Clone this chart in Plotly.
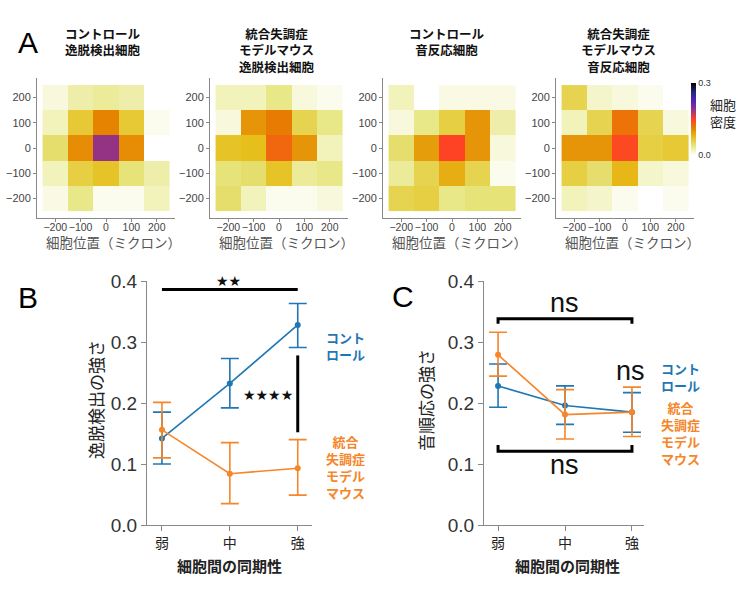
import plotly.graph_objects as go

W, H = 750, 589

# ---------------- data ----------------
pos = [-200, -100, 0, 100, 200]
rows = [200, 100, 0, -100, -200]

ctrl_escape = [
    [0.010, 0.025, 0.030, 0.025, 0.000],
    [0.020, 0.065, 0.110, 0.065, 0.005],
    [0.045, 0.105, 0.190, 0.105, 0.000],
    [0.020, 0.060, 0.070, 0.040, 0.025],
    [0.008, 0.035, 0.005, 0.005, 0.020],
]
sz_escape = [
    [0.020, 0.020, 0.035, 0.010, 0.005],
    [0.010, 0.100, 0.115, 0.055, 0.035],
    [0.070, 0.075, 0.127, 0.100, 0.020],
    [0.040, 0.045, 0.070, 0.030, 0.035],
    [0.045, 0.020, 0.005, 0.005, 0.010],
]
ctrl_sound = [
    [0.020, 0.000, 0.008, 0.008, 0.008],
    [0.010, 0.035, 0.060, 0.100, 0.025],
    [0.045, 0.095, 0.148, 0.100, 0.010],
    [0.030, 0.055, 0.085, 0.055, 0.005],
    [0.055, 0.060, 0.035, 0.040, 0.040],
]
sz_sound = [
    [0.055, 0.015, 0.010, 0.005, 0.000],
    [0.020, 0.055, 0.120, 0.055, 0.010],
    [0.100, 0.100, 0.145, 0.060, 0.065],
    [0.060, 0.045, 0.080, 0.015, 0.010],
    [0.020, 0.015, 0.005, 0.000, 0.005],
]

sync_levels = ["弱", "中", "強"]

b_ctrl = [0.142, 0.232, 0.328]
b_ctrl_hi = [0.185, 0.273, 0.363]
b_ctrl_lo = [0.100, 0.192, 0.291]
b_sz = [0.156, 0.084, 0.093]
b_sz_hi = [0.201, 0.135, 0.140]
b_sz_lo = [0.110, 0.035, 0.049]

c_ctrl = [0.228, 0.196, 0.185]
c_ctrl_hi = [0.264, 0.228, 0.217]
c_ctrl_lo = [0.193, 0.165, 0.152]
c_sz = [0.279, 0.181, 0.185]
c_sz_hi = [0.316, 0.222, 0.226]
c_sz_lo = [0.244, 0.141, 0.145]

BLUE = "#1f77b4"
ORANGE = "#f5862a"
JP = "Noto Sans CJK JP"
LAT = "Liberation Sans, Noto Sans CJK JP"

# CMRmap reversed
cmr = [(255, 255, 255), (230, 230, 128), (230, 191, 26), (230, 128, 0),
       (255, 64, 38), (153, 51, 128), (77, 38, 191), (38, 38, 128), (0, 0, 0)]
colorscale = [[i / 8, "rgb(%d,%d,%d)" % c] for i, c in enumerate(cmr)]


def px(x):
    return x / W


def py(y):
    return 1 - y / H


fig = go.Figure()

heat_data = [ctrl_escape, sz_escape, ctrl_sound, sz_sound]
heat_x = [(37, 175), (210, 348), (383, 521), (556, 694)]
for i, z in enumerate(heat_data):
    n = i + 1
    fig.add_trace(go.Heatmap(
        x=pos, y=rows, z=z, coloraxis="coloraxis",
        xaxis="x" if n == 1 else "x%d" % n,
        yaxis="y" if n == 1 else "y%d" % n,
        hoverinfo="skip"))


def err(v, hi, lo, col):
    return dict(type="data", symmetric=False,
                array=[h - a for h, a in zip(hi, v)],
                arrayminus=[a - l for a, l in zip(v, lo)],
                width=9, thickness=1.6, color=col)


for (v, hi, lo, col, xa, ya) in [
    (b_ctrl, b_ctrl_hi, b_ctrl_lo, BLUE, "x5", "y5"),
    (b_sz, b_sz_hi, b_sz_lo, ORANGE, "x5", "y5"),
    (c_ctrl, c_ctrl_hi, c_ctrl_lo, BLUE, "x6", "y6"),
    (c_sz, c_sz_hi, c_sz_lo, ORANGE, "x6", "y6"),
]:
    fig.add_trace(go.Scatter(
        x=[0, 1, 2], y=v, mode="lines+markers",
        line=dict(color=col, width=1.6), marker=dict(color=col, size=6),
        error_y=err(v, hi, lo, col), xaxis=xa, yaxis=ya,
        cliponaxis=False, hoverinfo="skip"))

layout = dict(
    width=W, height=H, autosize=False,
    margin=dict(l=0, r=0, t=0, b=0, pad=0, autoexpand=False),
    paper_bgcolor="white", plot_bgcolor="white",
    showlegend=False,
    coloraxis=dict(
        colorscale=colorscale, cmin=0, cmax=0.3,
        colorbar=dict(
            x=px(691), xanchor="left", y=py(119), yanchor="middle",
            len=72 / H, lenmode="fraction", thickness=5,
            tickvals=[0, 0.3], ticktext=["0.0", "0.3"], ticks="",
            tickfont=dict(size=9, family=LAT, color="#333"),
            outlinewidth=0, xpad=0, ypad=0)),
)

heat_ax_x = dict(range=[-272, 272], tickvals=pos,
                 ticktext=["−200", "−100", "0", "100", "200"],
                 tickangle=0, ticklabelstandoff=-4,
                 showline=True, linecolor="#888", linewidth=1,
                 ticks="outside", ticklen=3, tickcolor="#888",
                 tickfont=dict(size=10.5, family=LAT, color="#444"),
                 showgrid=False, zeroline=False)
heat_ax_y = dict(range=[-278, 278], tickvals=rows,
                 showline=True, linecolor="#888", linewidth=1,
                 ticks="outside", ticklen=3, tickcolor="#888",
                 tickfont=dict(size=11, family=LAT, color="#444"),
                 showgrid=False, zeroline=False)

for i, (x0, x1) in enumerate(heat_x):
    n = i + 1
    kx = "xaxis" if n == 1 else "xaxis%d" % n
    ky = "yaxis" if n == 1 else "yaxis%d" % n
    layout[kx] = dict(heat_ax_x, domain=[px(x0), px(x1)],
                      anchor="y" if n == 1 else "y%d" % n)
    layout[ky] = dict(heat_ax_y, domain=[py(218), py(78)],
                      anchor="x" if n == 1 else "x%d" % n)

line_ax_x = dict(tickvals=[0, 1, 2], ticktext=sync_levels,
                 showline=True, linecolor="#888", linewidth=1.3,
                 ticks="outside", ticklen=5, tickcolor="#888",
                 tickfont=dict(size=14, family=JP, color="#222"),
                 showgrid=False, zeroline=False)
line_ax_y = dict(range=[0, 0.4], tickvals=[0, 0.1, 0.2, 0.3, 0.4],
                 tickformat=".1f",
                 showline=True, linecolor="#888", linewidth=1.3,
                 ticks="outside", ticklen=5, tickcolor="#888",
                 tickfont=dict(size=19, family=LAT, color="#333"),
                 showgrid=False, zeroline=False)

layout["xaxis5"] = dict(line_ax_x, domain=[px(147), px(312)], range=[-0.22, 2.21], anchor="y5")
layout["yaxis5"] = dict(line_ax_y, domain=[py(525), py(281)], anchor="x5")
layout["xaxis6"] = dict(line_ax_x, domain=[px(484), px(644)], range=[-0.21, 2.18], anchor="y6")
layout["yaxis6"] = dict(line_ax_y, domain=[py(525), py(281)], anchor="x6")

fig.update_layout(**layout)

ann = []


def A(text, x, y, size, color="#111", family=JP, xanchor="center", yanchor="middle",
      xref="paper", yref="paper", textangle=0):
    ann.append(dict(text=text, x=x, y=y, xref=xref, yref=yref, showarrow=False,
                    font=dict(size=size, color=color, family=family),
                    xanchor=xanchor, yanchor=yanchor, textangle=textangle))


# panel letters
A("A", px(28), py(42), 30, family=LAT, color="#000")
A("B", px(28), py(297), 30, family=LAT, color="#000")
A("C", px(403), py(296), 30, family=LAT, color="#000")

# heatmap titles
titles = [
    (103, "コントロール<br>逸脱検出細胞"),
    (277, "統合失調症<br>モデルマウス<br>逸脱検出細胞"),
    (447, "コントロール<br>音反応細胞"),
    (618, "統合失調症<br>モデルマウス<br>音反応細胞"),
]
for cx, t in titles:
    A("<b>" + t + "</b>", px(cx), py(22), 12.5, color="#111", yanchor="top")

for x0, x1 in heat_x:
    A("細胞位置（ミクロン）", px((x0 + x1) / 2 + 7), py(242), 13.5, color="#555")

# colorbar title
A("細胞<br>密度", px(723), py(113), 13, color="#222")

# bottom-panel axis titles
A("逸脱検出の強さ", px(95), py(400), 17, color="#222", textangle=-90)
A("音順応の強さ", px(425), py(400), 17, color="#222", textangle=-90)
A("<b>細胞間の同期性</b>", px(230), py(565), 15, color="#222")
A("<b>細胞間の同期性</b>", px(567), py(565), 15, color="#222")

# series labels
A("<b>コント<br>ロール</b>", px(345), py(346), 13, color=BLUE)
A("<b>統合<br>失調症<br>モデル<br>マウス</b>", px(345), py(467), 13, color=ORANGE)
A("<b>コント<br>ロール</b>", px(680), py(377), 13, color=BLUE)
A("<b>統合<br>失調症<br>モデル<br>マウス</b>", px(680), py(433), 13, color=ORANGE)

# significance markers
A("★★", px(228), py(281), 14, color="#111", family="DejaVu Sans")
A("★★★★", px(295), py(395), 14, color="#111", family="DejaVu Sans", xanchor="right")
A("ns", px(564), py(303), 27, color="#111", family=LAT)
A("ns", px(564), py(465), 27, color="#111", family=LAT)
A("ns", px(630), py(371), 27, color="#111", family=LAT)

fig.update_layout(annotations=ann)

shapes = [
    dict(type="line", xref="x5", yref="y5", x0=0, x1=2, y0=0.386, y1=0.386,
         line=dict(color="black", width=3)),
    dict(type="line", xref="x5", yref="y5", x0=2, x1=2, y0=0.152, y1=0.278,
         line=dict(color="black", width=3)),
    dict(type="path", xref="x6", yref="y6",
         path="M 0,0.330 L 0,0.338 L 2,0.338 L 2,0.330",
         line=dict(color="black", width=3)),
    dict(type="path", xref="x6", yref="y6",
         path="M 0,0.131 L 0,0.121 L 2,0.121 L 2,0.131",
         line=dict(color="black", width=3)),
]
fig.update_layout(shapes=shapes)

fig.write_html("out.html",
               config={"displayModeBar": False},
               post_script="document.body.style.margin='0';document.body.style.padding='0';")
